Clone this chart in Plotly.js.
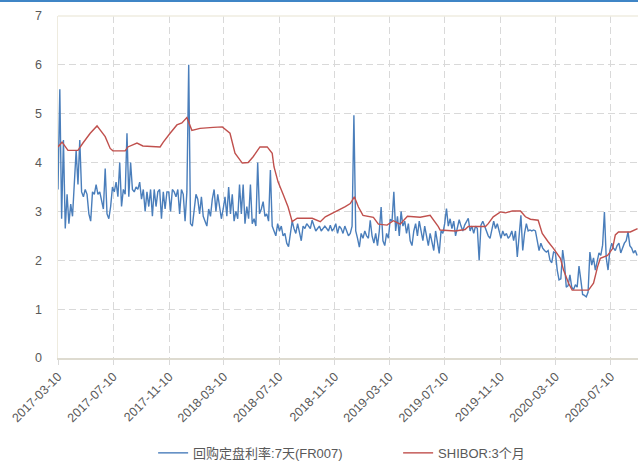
<!DOCTYPE html>
<html>
<head>
<meta charset="utf-8">
<script src="https://cdn.plot.ly/plotly-3.0.1.min.js"></script>
<style>
  html, body { margin: 0; padding: 0; background: #ffffff; }
  #topbar { position: absolute; left: 0; top: 0; width: 638px; height: 2px; background: #3f85c6; z-index: 5; }
  #chart { width: 638px; height: 465px; }
</style>
</head>
<body>
<div id="topbar"></div>
<div id="chart"></div>
<script>
// ---- Data ----
const seriesNames = ["回购定盘利率:7天(FR007)", "SHIBOR:3个月"];

// FR007: sampled every 4 days starting 2017-03-10
const fr007Start = "2017-03-10";
const fr007StepDays = 4;
const fr007Values = [
  3.45, 5.5, 2.85, 4.46, 2.65, 3.35, 2.75, 3.15, 2.9, 3.5,
  4.25, 3.55, 4.46, 3.4, 3.3, 3.45, 3.35, 2.95, 2.8, 3.4,
  3.35, 3.55, 3.35, 3.4, 3.2, 3.05, 3.88, 2.95, 2.85, 3.1,
  3.5, 3.4, 3.6, 3.3, 4.0, 3.1, 3.45, 3.35, 4.6, 3.3,
  4.0, 3.45, 3.4, 3.5, 3.45, 3.6, 3.25, 3.45, 3.0, 3.4,
  3.1, 3.45, 2.9, 3.45, 3.1, 3.4, 3.45, 2.85, 3.4, 3.05,
  3.4, 3.4, 3.0, 3.45, 3.4, 3.3, 3.45, 2.95, 3.45, 3.35,
  2.8, 3.4, 6.0, 2.75, 2.7, 3.0, 3.35, 3.25, 2.95, 3.3,
  2.9, 2.8, 2.7, 3.05, 2.9, 3.25, 3.45, 3.0, 3.35, 3.1,
  2.85, 3.05, 3.3, 2.9, 3.5, 2.95, 3.35, 2.8, 3.0, 2.85,
  3.55, 2.95, 3.55, 2.75, 3.1, 2.85, 3.55, 2.75, 2.85, 2.7,
  4.0, 2.95, 3.05, 3.2, 2.9, 2.95, 2.8, 3.85, 2.7, 2.6,
  2.5, 2.75, 2.6, 2.7, 2.5, 2.55, 2.35, 2.28, 2.5, 2.8,
  2.65, 2.55, 2.75, 2.6, 2.4, 2.7, 2.65, 2.75, 2.7, 2.65,
  2.82, 2.7, 2.6, 2.65, 2.7, 2.6, 2.65, 2.7, 2.65, 2.6,
  2.72, 2.6, 2.65, 2.75, 2.55, 2.7, 2.65, 2.55, 2.7, 2.6,
  2.5, 2.55, 2.7, 4.97, 2.6, 2.45, 2.27, 2.55, 2.45, 2.6,
  2.5, 2.45, 2.82, 2.5, 2.35, 2.55, 2.3, 2.6, 3.09, 2.4,
  2.3, 2.55, 2.45, 2.84, 2.8, 3.4, 2.6, 2.9, 2.5, 3.0,
  2.7, 2.8, 2.55, 2.75, 2.4, 2.3, 2.6, 2.75, 2.5, 2.8,
  2.6, 2.4, 2.7, 2.5, 2.3, 2.55, 2.4, 2.2, 2.6, 2.4,
  2.14, 2.6, 2.55, 2.75, 3.06, 2.7, 2.85, 2.65, 2.8, 2.5,
  2.65, 2.83, 2.7, 2.6, 2.72, 2.78, 2.86, 2.6, 2.7, 2.55,
  2.7, 2.65, 2.0, 2.72, 2.8, 2.7, 2.6, 2.5, 2.45, 2.6,
  2.8, 2.65, 2.75, 2.6, 2.45, 2.6, 2.5, 2.55, 2.45, 2.5,
  2.6, 2.4, 2.6, 2.07, 2.5, 2.92, 2.2, 2.55, 2.75, 2.6,
  2.62, 2.6, 2.62, 2.6, 2.4, 2.2, 2.35, 2.25, 2.2, 2.17,
  2.2, 2.0, 1.95, 2.17, 2.15, 1.8, 1.6, 1.62, 2.21, 1.93,
  1.45, 1.48, 1.7, 1.45, 1.4, 1.5, 1.45, 1.88, 1.6, 1.3,
  1.28, 1.25, 1.35, 2.17, 1.9, 2.05, 1.8, 2.0, 2.15, 2.1,
  2.31, 2.99, 2.05, 1.8, 2.2, 2.35, 2.25, 2.2, 2.3, 2.35,
  2.15, 2.25, 2.35, 2.4, 2.58, 2.3, 2.25, 2.15, 2.2, 2.1
];

// SHIBOR 3M: read points
const shiborDates = [
  "2017-03-10","2017-03-19","2017-04-01","2017-04-23","2017-05-04","2017-05-20","2017-06-04","2017-06-22","2017-07-03","2017-07-09",
  "2017-08-05","2017-08-11","2017-08-31","2017-09-13","2017-10-21","2017-10-28","2017-11-12","2017-11-27","2017-12-08","2017-12-19",
  "2017-12-30","2018-01-17","2018-02-15","2018-03-07","2018-03-24","2018-04-04","2018-04-20","2018-05-03","2018-05-14","2018-05-29",
  "2018-06-14","2018-06-25","2018-06-29","2018-07-08","2018-07-19","2018-07-30","2018-08-08","2018-08-19","2018-09-21","2018-10-09",
  "2018-10-20","2018-11-11","2018-12-03","2018-12-14","2018-12-23","2019-01-01","2019-01-11","2019-02-03","2019-02-14","2019-03-05",
  "2019-03-19","2019-04-03","2019-04-19","2019-05-17","2019-06-08","2019-06-26","2019-06-30","2019-08-02","2019-08-24","2019-08-31",
  "2019-10-08","2019-10-14","2019-10-25","2019-11-10","2019-11-21","2019-12-06","2019-12-24","2020-01-04","2020-01-15","2020-02-01",
  "2020-02-10","2020-02-23","2020-03-06","2020-03-21","2020-03-28","2020-04-08","2020-04-16","2020-05-22","2020-06-02","2020-06-11",
  "2020-06-17","2020-07-03","2020-07-14","2020-07-20","2020-07-27","2020-08-22","2020-09-07"
];
const shiborValues = [
  4.32, 4.42, 4.25, 4.25, 4.40, 4.60, 4.75, 4.53, 4.29, 4.24,
  4.24, 4.32, 4.40, 4.34, 4.32, 4.42, 4.60, 4.77, 4.81, 4.92,
  4.66, 4.70, 4.72, 4.73, 4.60, 4.19, 3.99, 4.00, 4.12, 4.32,
  4.32, 4.19, 3.91, 3.60, 3.35, 3.09, 2.79, 2.86, 2.86, 2.79,
  2.89, 2.99, 3.10, 3.16, 3.30, 3.09, 2.92, 2.88, 2.74, 2.72,
  2.81, 2.74, 2.90, 2.88, 2.92, 2.69, 2.62, 2.60, 2.63, 2.69,
  2.69, 2.75, 2.89, 2.99, 2.97, 3.01, 3.01, 2.89, 2.84, 2.82,
  2.55, 2.38, 2.24, 2.04, 1.80, 1.53, 1.39, 1.39, 1.53, 1.87,
  2.04, 2.10, 2.24, 2.52, 2.58, 2.58, 2.65
];

const tickDates = [
  "2017-03-10","2017-07-10","2017-11-10","2018-03-10","2018-07-10","2018-11-10",
  "2019-03-10","2019-07-10","2019-11-10","2020-03-10","2020-07-10"
];
const yTicks = [0, 1, 2, 3, 4, 5, 6, 7];

// ---- Build ----
function isoDay(startIso, offsetDays) {
  const p = startIso.split("-").map(Number);
  const t = Date.UTC(p[0], p[1] - 1, p[2]) + offsetDays * 86400000;
  return new Date(t).toISOString().slice(0, 10);
}
const fr007Dates = fr007Values.map((_, i) => isoDay(fr007Start, i * fr007StepDays));

const textColor = "#595959";
const gridColor = "#d9d9d9";
const fontFam = "'Liberation Sans', 'Noto Sans CJK SC', sans-serif";

const traces = [
  {
    x: fr007Dates, y: fr007Values, type: "scatter", mode: "lines",
    name: seriesNames[0],
    line: { color: "#4a7ebb", width: 1.4 }
  },
  {
    x: shiborDates, y: shiborValues, type: "scatter", mode: "lines",
    name: seriesNames[1],
    line: { color: "#c0504d", width: 1.4 }
  }
];

const layout = {
  width: 638, height: 465,
  margin: { l: 58, r: 0, t: 16, b: 107 },
  paper_bgcolor: "#ffffff", plot_bgcolor: "#ffffff",
  font: { family: fontFam, color: textColor, size: 12.5 },
  showlegend: true,
  legend: {
    orientation: "h", xref: "container", yref: "container",
    x: 0.24, xanchor: "left", y: 0.026, yanchor: "middle",
    font: { family: fontFam, size: 13, color: textColor },
    entrywidth: 200
  },
  xaxis: {
    type: "date",
    range: ["2017-03-10", "2020-09-08"],
    tickvals: tickDates, ticktext: tickDates,
    tickangle: -45,
    ticks: "outside", ticklen: 5, tickcolor: gridColor,
    showgrid: true, gridcolor: gridColor, griddash: "7px,4px", gridwidth: 1,
    showline: true, linecolor: "#dedbd0", linewidth: 1.5,
    tickfont: { family: fontFam, size: 12.5, color: textColor },
    zeroline: false, fixedrange: true
  },
  yaxis: {
    range: [0, 7],
    tickvals: yTicks,
    showgrid: true, gridcolor: gridColor, griddash: "7px,4px", gridwidth: 1,
    showline: true, linecolor: "#eeebdf", linewidth: 1.5,
    ticks: "", ticklabelstandoff: 12,
    tickfont: { family: fontFam, size: 12.5, color: textColor },
    zeroline: false, fixedrange: true
  },
  shapes: [
    { type: "line", xref: "paper", yref: "paper", x0: 0, x1: 1, y0: 1, y1: 1,
      line: { color: "#efece1", width: 1.5 } }
  ]
};

Plotly.newPlot("chart", traces, layout, { displayModeBar: false, staticPlot: true });
</script>
</body>
</html>
